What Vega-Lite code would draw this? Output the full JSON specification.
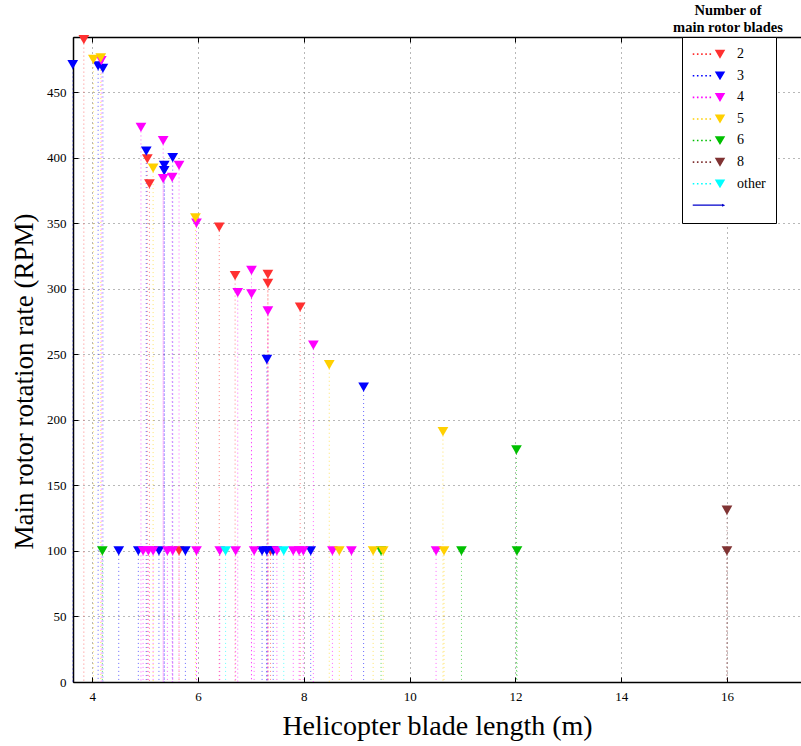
{
  "$schema": "https://vega.github.io/schema/vega-lite/v6.json",
  "width": 728,
  "height": 645,
  "autosize": "none",
  "padding": {"left": 73, "top": 37, "right": 0, "bottom": 64},
  "background": "white",
  "view": {"stroke": "black", "strokeWidth": 1},
  "title": {
    "text": ["Number of", "main rotor blades"],
    "anchor": "end",
    "align": "center",
    "frame": "group",
    "dx": -73,
    "offset": -1,
    "font": "Liberation Serif",
    "fontSize": 14.5,
    "fontWeight": "bold",
    "lineHeight": 17,
    "color": "black"
  },
  "config": {
    "font": "Liberation Serif",
    "axis": {
      "labelFont": "Liberation Serif",
      "labelFontSize": 13,
      "labelColor": "black",
      "titleFont": "Liberation Serif",
      "titleFontSize": 27,
      "titleFontWeight": "normal",
      "titleColor": "black",
      "domainColor": "black",
      "domainWidth": 1.5,
      "tickColor": "black",
      "tickSize": -5,
      "tickWidth": 1,
      "gridColor": "#707070",
      "gridDash": [1, 4],
      "gridWidth": 1,
      "gridOpacity": 1
    }
  },
  "data": {
    "values": [
      {"L": 3.84, "RPM": 490, "B": "2"},
      {"L": 5.04, "RPM": 399, "B": "2"},
      {"L": 5.08, "RPM": 380, "B": "2"},
      {"L": 5.64, "RPM": 100, "B": "2"},
      {"L": 6.40, "RPM": 347, "B": "2"},
      {"L": 6.70, "RPM": 310, "B": "2"},
      {"L": 7.32, "RPM": 311, "B": "2"},
      {"L": 7.32, "RPM": 304, "B": "2"},
      {"L": 7.37, "RPM": 100, "B": "2"},
      {"L": 7.93, "RPM": 286, "B": "2"},
      {"L": 3.63, "RPM": 471, "B": "3"},
      {"L": 4.11, "RPM": 470, "B": "3"},
      {"L": 4.20, "RPM": 468, "B": "3"},
      {"L": 5.02, "RPM": 405, "B": "3"},
      {"L": 5.36, "RPM": 394, "B": "3"},
      {"L": 5.36, "RPM": 390, "B": "3"},
      {"L": 5.52, "RPM": 400, "B": "3"},
      {"L": 7.30, "RPM": 246, "B": "3"},
      {"L": 9.13, "RPM": 225, "B": "3"},
      {"L": 4.50, "RPM": 100, "B": "3"},
      {"L": 4.87, "RPM": 100, "B": "3"},
      {"L": 5.26, "RPM": 100, "B": "3"},
      {"L": 5.76, "RPM": 100, "B": "3"},
      {"L": 7.21, "RPM": 100, "B": "3"},
      {"L": 7.30, "RPM": 100, "B": "3"},
      {"L": 7.42, "RPM": 100, "B": "3"},
      {"L": 8.13, "RPM": 100, "B": "3"},
      {"L": 4.17, "RPM": 474, "B": "4"},
      {"L": 4.92, "RPM": 423, "B": "4"},
      {"L": 5.34, "RPM": 413, "B": "4"},
      {"L": 5.34, "RPM": 384, "B": "4"},
      {"L": 5.51, "RPM": 385, "B": "4"},
      {"L": 5.64, "RPM": 394, "B": "4"},
      {"L": 5.97, "RPM": 350, "B": "4"},
      {"L": 6.75, "RPM": 297, "B": "4"},
      {"L": 7.01, "RPM": 314, "B": "4"},
      {"L": 7.01, "RPM": 296, "B": "4"},
      {"L": 7.32, "RPM": 283, "B": "4"},
      {"L": 8.18, "RPM": 257, "B": "4"},
      {"L": 4.96, "RPM": 100, "B": "4"},
      {"L": 5.06, "RPM": 100, "B": "4"},
      {"L": 5.15, "RPM": 100, "B": "4"},
      {"L": 5.42, "RPM": 100, "B": "4"},
      {"L": 5.52, "RPM": 100, "B": "4"},
      {"L": 5.97, "RPM": 100, "B": "4"},
      {"L": 6.41, "RPM": 100, "B": "4"},
      {"L": 6.71, "RPM": 100, "B": "4"},
      {"L": 7.06, "RPM": 100, "B": "4"},
      {"L": 7.49, "RPM": 100, "B": "4"},
      {"L": 7.80, "RPM": 100, "B": "4"},
      {"L": 7.91, "RPM": 100, "B": "4"},
      {"L": 7.99, "RPM": 100, "B": "4"},
      {"L": 8.54, "RPM": 100, "B": "4"},
      {"L": 8.90, "RPM": 100, "B": "4"},
      {"L": 10.50, "RPM": 100, "B": "4"},
      {"L": 9.46, "RPM": 100, "B": "6"},
      {"L": 4.02, "RPM": 475, "B": "5"},
      {"L": 4.16, "RPM": 476, "B": "5"},
      {"L": 5.15, "RPM": 392, "B": "5"},
      {"L": 5.95, "RPM": 354, "B": "5"},
      {"L": 8.48, "RPM": 242, "B": "5"},
      {"L": 10.63, "RPM": 191, "B": "5"},
      {"L": 8.67, "RPM": 100, "B": "5"},
      {"L": 9.31, "RPM": 100, "B": "5"},
      {"L": 9.50, "RPM": 100, "B": "5"},
      {"L": 10.65, "RPM": 100, "B": "5"},
      {"L": 12.02, "RPM": 177, "B": "6"},
      {"L": 4.19, "RPM": 100, "B": "6"},
      {"L": 10.98, "RPM": 100, "B": "6"},
      {"L": 12.03, "RPM": 100, "B": "6"},
      {"L": 16.0, "RPM": 131, "B": "8"},
      {"L": 16.0, "RPM": 100, "B": "8"},
      {"L": 6.52, "RPM": 100, "B": "other"},
      {"L": 7.62, "RPM": 100, "B": "other"}
    ]
  },
  "resolve": {"legend": {"color": "independent"}, "axis": {"x": "independent"}},
  "layer": [
    {
      "mark": {"type": "rule", "strokeDash": [1, 3], "strokeWidth": 1, "opacity": 0.6},
      "encoding": {
        "x": {
          "field": "L", "type": "quantitative",
          "scale": {"domain": [3.635, 17.4], "nice": false, "zero": false},
          "axis": {
            "values": [4, 6, 8, 10, 12, 14, 16],
            "title": "Helicopter blade length (m)",
            "titleFontSize": 28,
            "grid": true,
            "labelPadding": 13,
            "titlePadding": 9
          }
        },
        "y": {
          "field": "RPM", "type": "quantitative",
          "scale": {"domain": [0, 492], "nice": false},
          "axis": {
            "values": [0, 50, 100, 150, 200, 250, 300, 350, 400, 450],
            "title": "Main rotor rotation rate (RPM)",
            "titleY": 344,
            "grid": true,
            "labelPadding": 12,
            "titlePadding": 8
          }
        },
        "y2": {"datum": 0},
        "color": {
          "field": "B", "type": "nominal",
          "scale": {
            "domain": ["2", "3", "4", "5", "6", "8", "other", " "],
            "range": ["#ff3030", "#0000ff", "#ff00ff", "#ffd000", "#00c000", "#803333", "#00ffff", "#0000cc"]
          },
          "legend": null
        }
      }
    },
    {
      "mark": {"type": "point", "shape": "triangle-down", "filled": true, "size": 115, "opacity": 1},
      "encoding": {
        "x": {
          "field": "L", "type": "quantitative",
          "axis": {"orient": "top", "labels": false, "title": null, "grid": false, "values": [4, 6, 8, 10, 12, 14, 16]}
        },
        "y": {"field": "RPM", "type": "quantitative"},
        "color": {
          "field": "B", "type": "nominal",
          "legend": {
            "orient": "none",
            "legendX": 609,
            "legendY": 0,
            "title": null,
            "strokeColor": "black",
            "fillColor": "white",
            "padding": 10,
            "rowPadding": 7.6,
            "symbolSize": 110,
            "symbolOffset": 21,
            "symbolType": "M-5.6,-0.1h0.25v0.25h-0.25z M-1,-0.8L1,-0.8L0,0.9Z",
            "symbolOpacity": 1,
            "symbolStrokeWidth": 0,
            "symbolStrokeColor": "transparent",
            "labelFont": "Liberation Serif",
            "labelFontSize": 14,
            "labelColor": "black",
            "labelOffset": 10,
            "labelExpr": "datum.label == ' ' ? '' : datum.label",
            "values": ["2", "3", "4", "5", "6", "8", "other", " "],
            "encode": {
              "symbols": {
                "update": {
                  "stroke": {"value": "transparent"},
                  "strokeWidth": {"value": 0},
                  "shape": {"signal": "datum.value == ' ' ? 'M-5.2,-0.12H0.6V0.12H-5.2Z M0.4,-0.3L1,0L0.4,0.3Z' : 'M-5.2,-0.12h0.3v0.3h-0.3z M-4.4,-0.12h0.3v0.3h-0.3z M-3.6,-0.12h0.3v0.3h-0.3z M-2.8,-0.12h0.3v0.3h-0.3z M-2.0,-0.12h0.3v0.3h-0.3z M-1,-0.8L1,-0.8L0,0.9Z'"}
                }
              }
            }
          }
        }
      }
    }
  ]
}
